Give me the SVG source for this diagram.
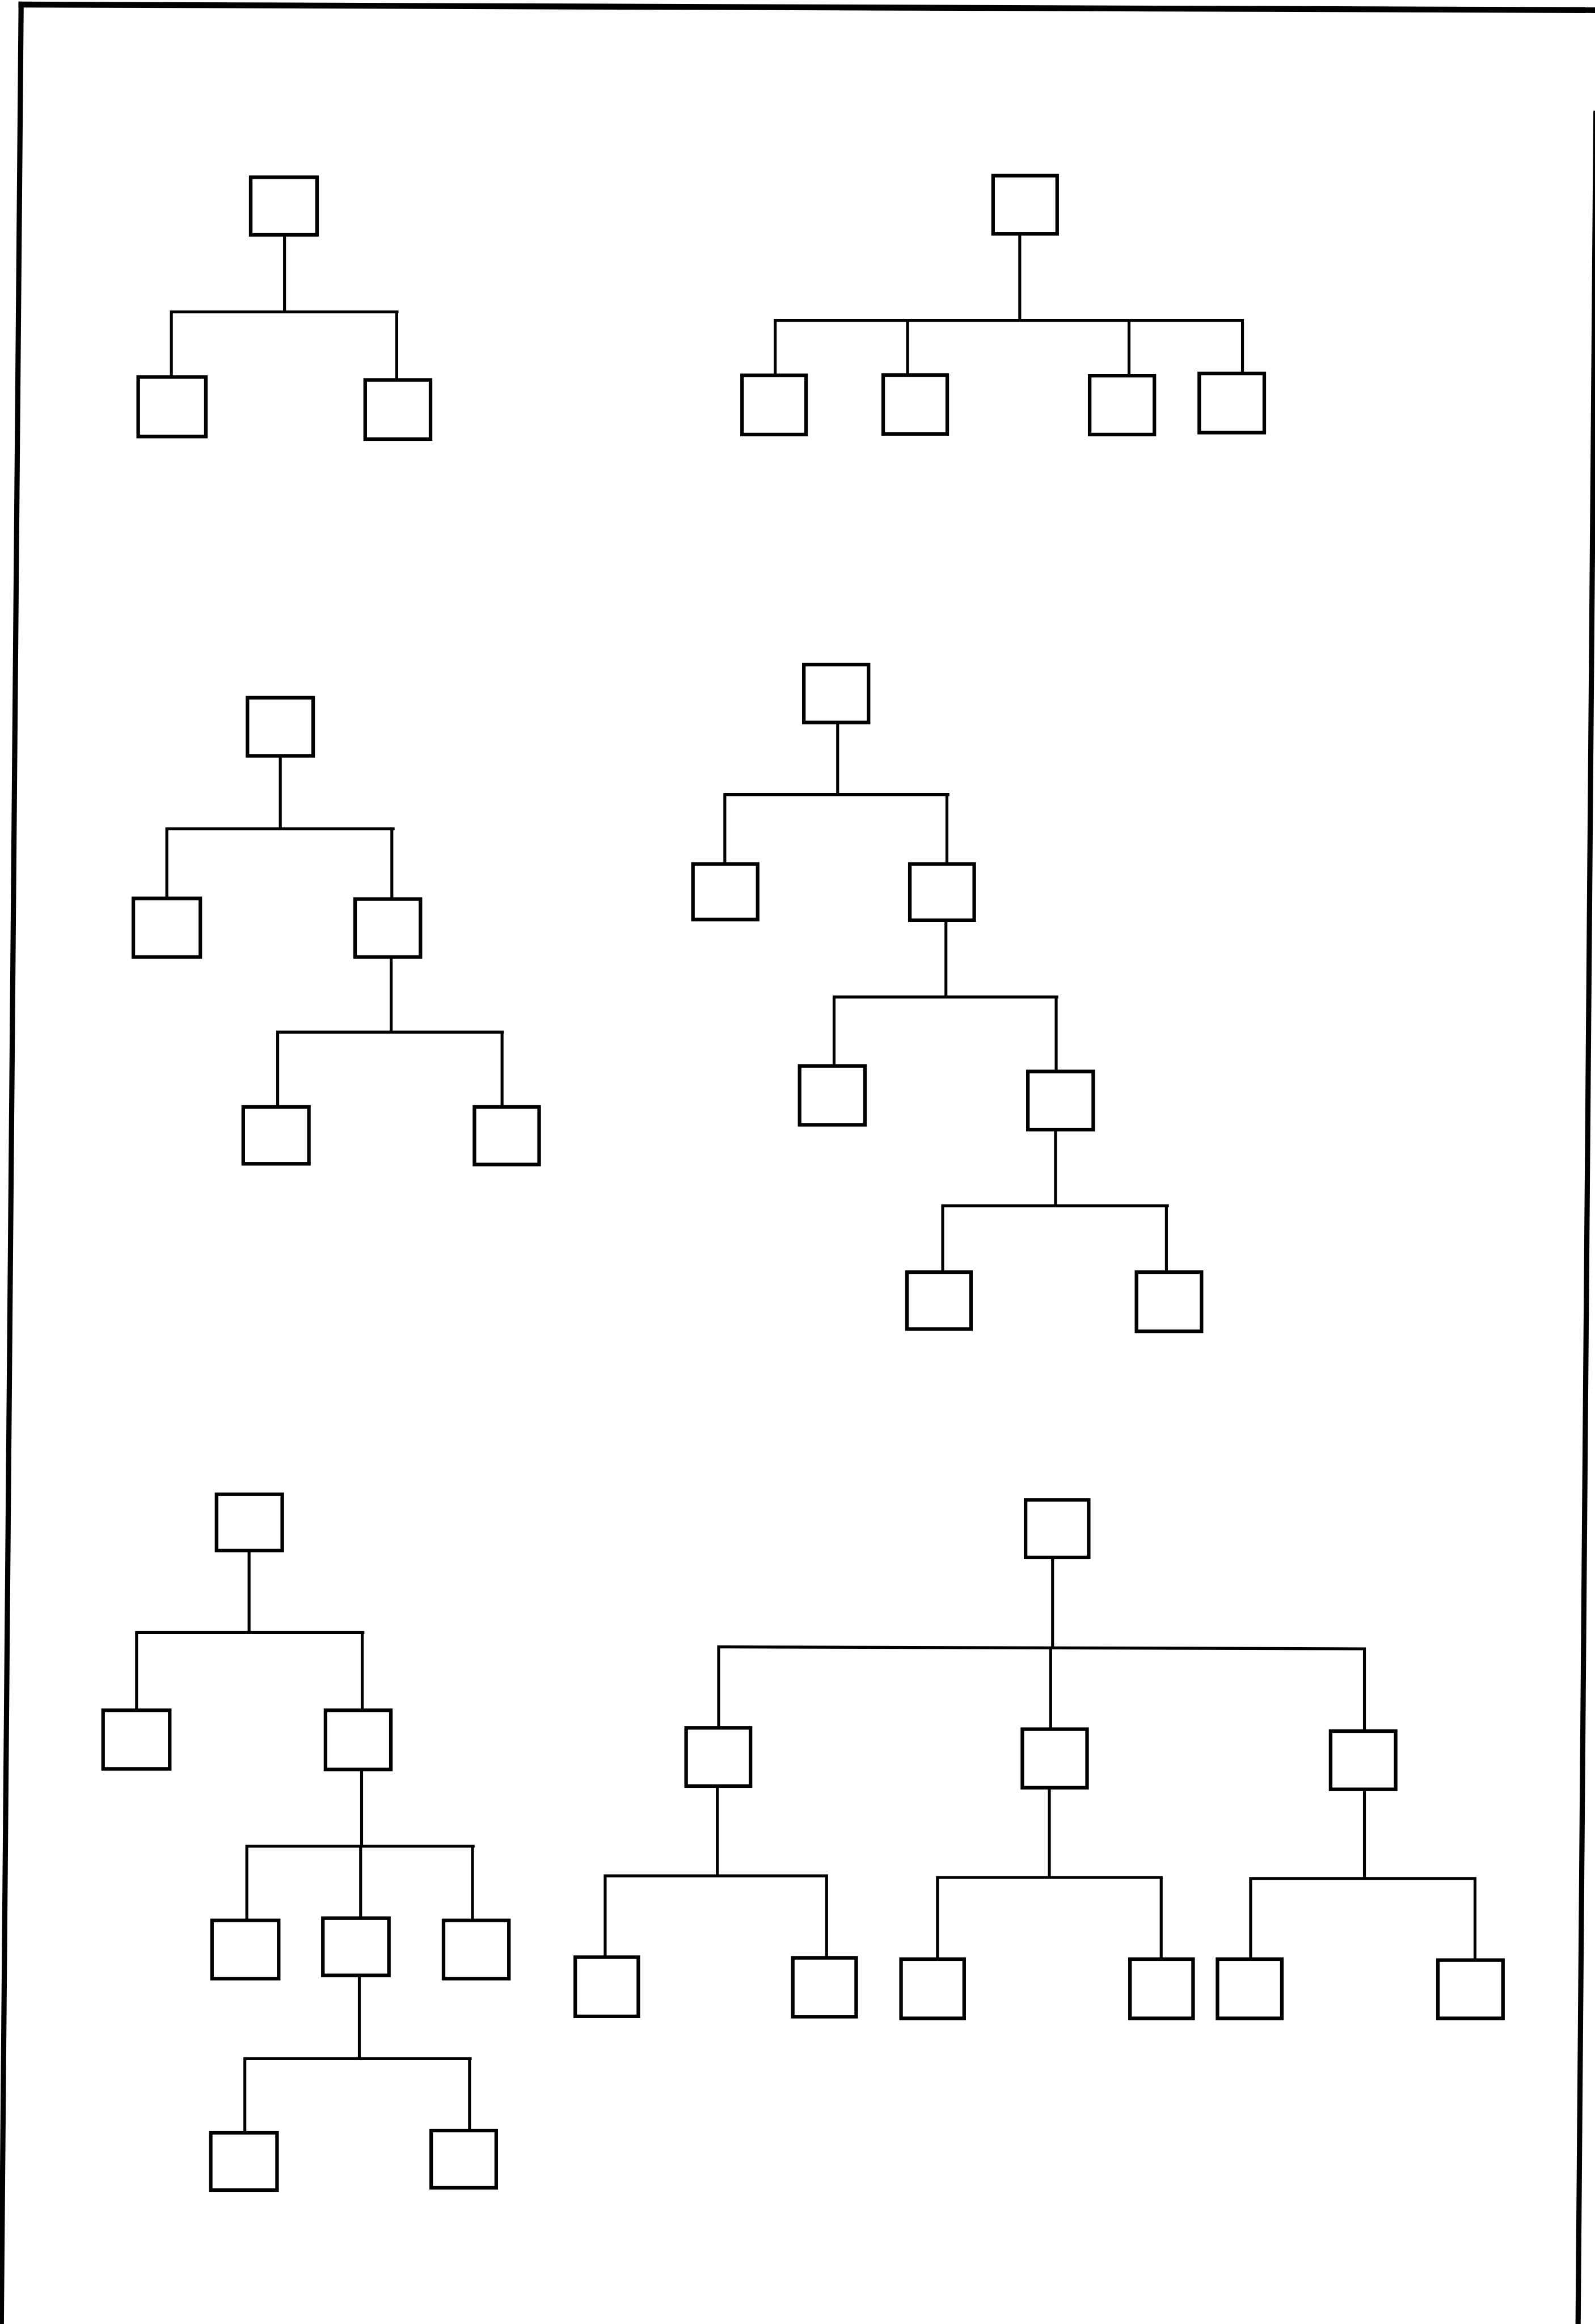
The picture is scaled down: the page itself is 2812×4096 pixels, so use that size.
<svg xmlns="http://www.w3.org/2000/svg" width="2812" height="4096" viewBox="0 0 2812 4096">
<style>
.box{fill:#fff;stroke:#000;stroke-width:11}
.ln{fill:none;stroke:#000;stroke-width:9;stroke-linecap:square}
.frame{fill:none;stroke:#000;stroke-linecap:butt}
</style>
<rect x="0" y="0" width="2812" height="4096" fill="#fff"/>
<g transform="scale(0.57329)">
<g id="frame">
<path class="frame" d="M57 14 L4905 31" stroke-width="18"/>
<path class="frame" d="M65 5 L4 7145" stroke-width="16"/>
<path class="frame" d="M4908 340 L4853 7145" stroke-width="16"/>
</g>
<g id="connectors">
<path class="ln" d="M875 727 V959 M527 959 H1221 M527 959 V1159 M1220 959 V1168"/>
<path class="ln" d="M3136 724 V985 M2384 985 H3821 M2384 985 V1154 M2791 985 V1153 M3472 985 V1155 M3821 985 V1148"/>
<path class="ln" d="M862 2329 V2548 M513 2548 H1209 M513 2548 V2762 M1205 2548 V2764 M1203 2947 V3173 M854 3173 H1545 M854 3173 V3403 M1544 3173 V3403"/>
<path class="ln" d="M2576 2226 V2443 M2229 2443 H2915 M2229 2443 V2656 M2912 2443 V2656 M2909 2834 V3065 M2565 3065 H3250 M2565 3065 V3277 M3248 3065 V3294 M3246 3478 V3707 M2899 3707 H3590 M2899 3707 V3911 M3587 3707 V3911"/>
<path class="ln" d="M766 4772 V5019 M420 5019 H1116 M420 5019 V5258 M1114 5019 V5258 M1112 5445 V5676 M759 5676 H1455 M759 5676 V5904 M1109 5676 V5897 M1453 5676 V5904 M1105 6078 V6329 M754 6329 H1446 M753 6329 V6557 M1444 6329 V6550"/>
<path class="ln" d="M3237 4793 V5065 M2210 5063 L4196 5069 M2210 5063 V5312 M3231 5066 V5316 M4196 5069 V5322 M2206 5496 V5767 M1861 5767 H2542 M1861 5767 V6017 M2542 5767 V6019 M3227 5501 V5772 M2883 5772 H3571 M2883 5772 V6023 M3571 5772 V6023 M4196 5506 V5775 M3846 5775 H4536 M3846 5775 V6023 M4536 5775 V6026"/>
</g>
<g id="tree1">
<rect id="t1r" class="box" x="771" y="545" width="204" height="177"/>
<rect id="t1a" class="box" x="425" y="1159" width="208" height="183"/>
<rect id="t1b" class="box" x="1123" y="1168" width="201" height="182"/>
</g>
<g id="tree2">
<rect id="t2r" class="box" x="3054" y="540" width="197" height="179"/>
<rect id="t2a" class="box" x="2282" y="1154" width="197" height="182"/>
<rect id="t2b" class="box" x="2716" y="1153" width="197" height="181"/>
<rect id="t2c" class="box" x="3351" y="1155" width="199" height="181"/>
<rect id="t2d" class="box" x="3688" y="1148" width="200" height="182"/>
</g>
<g id="tree3">
<rect id="t3r" class="box" x="761" y="2145" width="202" height="179"/>
<rect id="t3a" class="box" x="410" y="2762" width="206" height="180"/>
<rect id="t3b" class="box" x="1092" y="2764" width="201" height="178"/>
<rect id="t3c" class="box" x="748" y="3403" width="202" height="175"/>
<rect id="t3d" class="box" x="1459" y="3403" width="199" height="177"/>
</g>
<g id="tree4">
<rect id="t4r" class="box" x="2472" y="2043" width="199" height="178"/>
<rect id="t4a" class="box" x="2131" y="2656" width="199" height="171"/>
<rect id="t4b" class="box" x="2798" y="2656" width="198" height="173"/>
<rect id="t4c" class="box" x="2459" y="3277" width="201" height="181"/>
<rect id="t4d" class="box" x="3161" y="3294" width="201" height="179"/>
<rect id="t4e" class="box" x="2789" y="3911" width="197" height="175"/>
<rect id="t4f" class="box" x="3495" y="3911" width="200" height="182"/>
</g>
<g id="tree5">
<rect id="t5r" class="box" x="666" y="4594" width="202" height="173"/>
<rect id="t5a" class="box" x="317" y="5258" width="205" height="180"/>
<rect id="t5b" class="box" x="1001" y="5258" width="201" height="182"/>
<rect id="t5c" class="box" x="652" y="5904" width="205" height="179"/>
<rect id="t5d" class="box" x="993" y="5897" width="203" height="176"/>
<rect id="t5e" class="box" x="1364" y="5904" width="201" height="179"/>
<rect id="t5f" class="box" x="648" y="6557" width="204" height="176"/>
<rect id="t5g" class="box" x="1326" y="6550" width="200" height="176"/>
</g>
<g id="tree6">
<rect id="t6r" class="box" x="3154" y="4611" width="194" height="177"/>
<rect id="t6a" class="box" x="2110" y="5312" width="198" height="179"/>
<rect id="t6b" class="box" x="3144" y="5316" width="199" height="180"/>
<rect id="t6c" class="box" x="4092" y="5322" width="200" height="179"/>
<rect id="t6a1" class="box" x="1769" y="6017" width="194" height="182"/>
<rect id="t6a2" class="box" x="2438" y="6019" width="195" height="181"/>
<rect id="t6b1" class="box" x="2771" y="6023" width="194" height="182"/>
<rect id="t6b2" class="box" x="3475" y="6023" width="194" height="182"/>
<rect id="t6c1" class="box" x="3744" y="6023" width="198" height="182"/>
<rect id="t6c2" class="box" x="4422" y="6026" width="200" height="179"/>
</g>
</g>
</svg>
